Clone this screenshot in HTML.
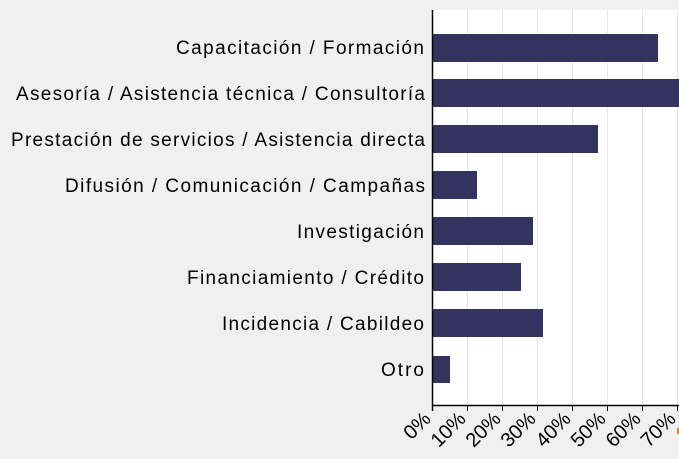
<!DOCTYPE html>
<html><head><meta charset="utf-8"><style>
html,body{margin:0;padding:0;background:#f0f0f0;}
svg{display:block;}
text{font-family:"Liberation Sans",Arial,sans-serif;font-size:19px;fill:#000;}
.t{font-size:20px;}
</style></head><body>
<svg width="679" height="459" viewBox="0 0 679 459">
<rect x="0" y="0" width="679" height="459" fill="#f0f0f0"/>
<rect x="432" y="10" width="247" height="395" fill="#fff"/>
<g stroke="#e6e6e6" stroke-width="1">
<line x1="467.5" y1="10" x2="467.5" y2="405"/>
<line x1="502.5" y1="10" x2="502.5" y2="405"/>
<line x1="537.5" y1="10" x2="537.5" y2="405"/>
<line x1="572.5" y1="10" x2="572.5" y2="405"/>
<line x1="607.5" y1="10" x2="607.5" y2="405"/>
<line x1="642.5" y1="10" x2="642.5" y2="405"/>
<line x1="677.5" y1="10" x2="677.5" y2="405"/>
</g>
<g fill="#33335f">
<rect x="433" y="34" width="225" height="28"/>
<rect x="433" y="79" width="246" height="28"/>
<rect x="433" y="125" width="165" height="28"/>
<rect x="433" y="171" width="44" height="28"/>
<rect x="433" y="217" width="100" height="28"/>
<rect x="433" y="263" width="88" height="28"/>
<rect x="433" y="309" width="110" height="28"/>
<rect x="433" y="356" width="17" height="27"/>
</g>
<g stroke="#000" stroke-width="1.5">
<line x1="432.5" y1="10" x2="432.5" y2="411"/>
<line x1="432" y1="405.5" x2="679" y2="405.5"/>
</g>
<g stroke="#000" stroke-width="1">
<line x1="467.5" y1="405" x2="467.5" y2="411"/>
<line x1="502.5" y1="405" x2="502.5" y2="411"/>
<line x1="537.5" y1="405" x2="537.5" y2="411"/>
<line x1="572.5" y1="405" x2="572.5" y2="411"/>
<line x1="607.5" y1="405" x2="607.5" y2="411"/>
<line x1="642.5" y1="405" x2="642.5" y2="411"/>
<line x1="677.5" y1="405" x2="677.5" y2="411"/>
</g>
<g text-anchor="end" lengthAdjust="spacing">
<text x="424" y="54" textLength="248">Capacitación / Formación</text>
<text x="425" y="100" textLength="409">Asesoría / Asistencia técnica / Consultoría</text>
<text x="425" y="146" textLength="414">Prestación de servicios / Asistencia directa</text>
<text x="425" y="192" textLength="360">Difusión / Comunicación / Campañas</text>
<text x="424" y="238" textLength="127">Investigación</text>
<text x="424" y="284" textLength="237">Financiamiento / Crédito</text>
<text x="424" y="330" textLength="202">Incidencia / Cabildeo</text>
<text x="424" y="376" textLength="43">Otro</text>
</g>
<g text-anchor="end">
<text class="t" transform="translate(432,420) rotate(-45)">0%</text>
<text class="t" transform="translate(467,420) rotate(-45)">10%</text>
<text class="t" transform="translate(502,420) rotate(-45)">20%</text>
<text class="t" transform="translate(537,420) rotate(-45)">30%</text>
<text class="t" transform="translate(572,420) rotate(-45)">40%</text>
<text class="t" transform="translate(607,420) rotate(-45)">50%</text>
<text class="t" transform="translate(642,420) rotate(-45)">60%</text>
<text class="t" transform="translate(677,420) rotate(-45)">70%</text>
</g>
<rect x="677" y="428" width="2" height="6" fill="#e08020"/>
</svg>
</body></html>
